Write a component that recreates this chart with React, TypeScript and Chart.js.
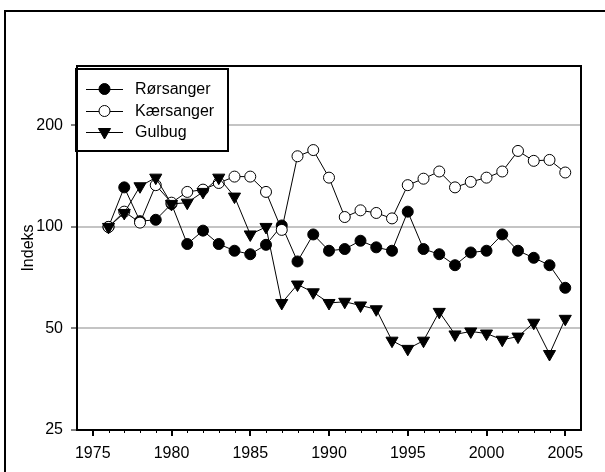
import React, { useEffect, useRef } from "react";
import { Chart, registerables } from "chart.js";

Chart.register(...registerables);

const years = [1976, 1977, 1978, 1979, 1980, 1981, 1982, 1983, 1984, 1985, 1986, 1987, 1988, 1989, 1990, 1991, 1992, 1993, 1994, 1995, 1996, 1997, 1998, 1999, 2000, 2001, 2002, 2003, 2004, 2005];
const rorsanger = [100, 131, 104, 105, 117, 89, 97.5, 89, 85, 83, 88.5, 101, 79, 95, 85, 86, 91, 87, 85, 111, 86, 83, 77, 84, 85, 95, 85, 81, 77, 66];
const kaersanger = [100, 111, 103, 133, 118, 127, 129, 135, 141, 141, 127, 98, 162, 169, 140, 107, 112, 110, 106, 133, 139, 146, 131, 136, 140, 146, 168, 157, 158, 145];
const gulbug = [100, 110, 132, 140, 117, 118, 127, 140, 123, 95, 100, 59.5, 67.5, 64, 59.5, 60, 58.5, 57, 46, 43.5, 46, 56, 48, 49, 48.3, 46.3, 47.3, 52, 42, 53.4];
const seriesNames = ["Rørsanger", "Kærsanger", "Gulbug"];
const yTicks = [25, 50, 100, 200];
const xTickYears = [1975, 1976, 1977, 1978, 1979, 1980, 1981, 1982, 1983, 1984, 1985, 1986, 1987, 1988, 1989, 1990, 1991, 1992, 1993, 1994, 1995, 1996, 1997, 1998, 1999, 2000, 2001, 2002, 2003, 2004, 2005];
const yTitle = "Indeks";

const FONT = "'Liberation Sans', Arial, sans-serif";

const frameAndTicks = {
  id: "frameAndTicks",
  afterDraw(chart: any) {
    const { ctx, chartArea, scales } = chart;
    ctx.save();
    ctx.strokeStyle = "#000";
    xTickYears.forEach((yr) => {
      const x = Math.round(scales.x.getPixelForValue(yr));
      const major = yr % 5 === 0;
      ctx.lineWidth = major ? 2 : 1;
      ctx.beginPath();
      ctx.moveTo(x + (major ? 0 : 0.5), chartArea.bottom);
      ctx.lineTo(x + (major ? 0 : 0.5), chartArea.bottom + (major ? 6 : 3));
      ctx.stroke();
    });
    ctx.lineWidth = 2;
    ctx.strokeRect(chartArea.left, chartArea.top, chartArea.right - chartArea.left, chartArea.bottom - chartArea.top);
    ctx.restore();
  },
};

const legendPlugin = {
  id: "customLegend",
  afterDatasetsDraw(chart: any) {
    const { ctx } = chart;
    const bx = 76, by = 69, bw = 152, bh = 82;
    ctx.save();
    ctx.fillStyle = "#fff";
    ctx.fillRect(bx, by, bw, bh);
    ctx.strokeStyle = "#000";
    ctx.lineWidth = 2;
    ctx.strokeRect(bx, by, bw, bh);
    const rows = [89, 111, 132];
    chart.data.datasets.forEach((ds: any, i: number) => {
      const y = rows[i];
      ctx.strokeStyle = "#000";
      ctx.lineWidth = 1;
      ctx.beginPath();
      ctx.moveTo(86, y + 0.5);
      ctx.lineTo(123, y + 0.5);
      ctx.stroke();
      const cx = 104.5;
      ctx.fillStyle = ds.pointBackgroundColor;
      ctx.beginPath();
      if (ds.pointStyle === "triangle") {
        const r = ds.pointRadius;
        let rad = Math.PI;
        ctx.moveTo(cx + Math.sin(rad) * r, y - Math.cos(rad) * r);
        rad += (2 * Math.PI) / 3;
        ctx.lineTo(cx + Math.sin(rad) * r, y - Math.cos(rad) * r);
        rad += (2 * Math.PI) / 3;
        ctx.lineTo(cx + Math.sin(rad) * r, y - Math.cos(rad) * r);
        ctx.closePath();
      } else {
        ctx.arc(cx, y, ds.pointRadius, 0, Math.PI * 2);
      }
      ctx.fill();
      ctx.stroke();
      ctx.fillStyle = "#000";
      ctx.font = `16px ${FONT}`;
      ctx.textBaseline = "middle";
      ctx.textAlign = "left";
      ctx.fillText(ds.label, 135, y + 1);
    });
    ctx.restore();
  },
};

export default function App() {
  const ref = useRef<HTMLCanvasElement>(null);
  useEffect(() => {
    if (!ref.current) return;
    const mk = (vals: number[]) => years.map((yr, i) => ({ x: yr, y: vals[i] }));
    const chart = new Chart(ref.current, {
      type: "line",
      data: {
        datasets: [
          {
            label: seriesNames[0],
            data: mk(rorsanger),
            borderColor: "#000",
            borderWidth: 1,
            pointStyle: "circle",
            pointRadius: 5.5,
            pointBackgroundColor: "#000",
            pointBorderColor: "#000",
            pointBorderWidth: 1,
            order: 2,
          },
          {
            label: seriesNames[1],
            data: mk(kaersanger),
            borderColor: "#000",
            borderWidth: 1,
            pointStyle: "circle",
            pointRadius: 5.5,
            pointBackgroundColor: "#fff",
            pointBorderColor: "#000",
            pointBorderWidth: 1,
            order: 1,
          },
          {
            label: seriesNames[2],
            data: mk(gulbug),
            borderColor: "#000",
            borderWidth: 1,
            pointStyle: "triangle",
            pointRotation: 180,
            pointRadius: 7,
            pointBackgroundColor: "#000",
            pointBorderColor: "#000",
            pointBorderWidth: 1,
            order: 0,
          },
        ] as any,
      },
      options: {
        animation: false,
        responsive: false,
        devicePixelRatio: 1,
        events: [],
        layout: { padding: { top: 66, right: 24, left: 0, bottom: 0 } },
        plugins: { legend: { display: false }, tooltip: { enabled: false } },
        font: { family: FONT },
        scales: {
          x: {
            type: "linear",
            min: 1974,
            max: 2006,
            afterBuildTicks: (s: any) => {
              s.ticks = xTickYears.map((v) => ({ value: v }));
            },
            afterFit: (s: any) => {
              s.height = 42;
            },
            grid: { display: false, drawTicks: false },
            border: { display: false },
            ticks: {
              autoSkip: false,
              maxRotation: 0,
              padding: 14,
              color: "#000",
              font: { family: FONT, size: 16 },
              callback: (v: any) => (Number(v) % 5 === 0 ? String(v) : ""),
            },
          },
          y: {
            type: "logarithmic",
            min: 25,
            max: 300,
            afterBuildTicks: (s: any) => {
              s.ticks = yTicks.map((v) => ({ value: v }));
            },
            afterFit: (s: any) => {
              s.width = 77;
            },
            grid: {
              color: (c: any) => (c.tick && c.tick.value === 25 ? "rgba(0,0,0,0)" : "#c4c4c4"),
              lineWidth: 2,
              tickColor: "#000",
              tickLength: 6,
              tickWidth: 1,
            },
            border: { display: true, color: "#000", width: 2 },
            ticks: {
              padding: 8,
              color: "#000",
              font: { family: FONT, size: 16 },
              callback: (v: any) => String(v),
            },
            title: {
              display: true,
              text: yTitle,
              color: "#000",
              font: { family: FONT, size: 16 },
              padding: { top: 19, bottom: 0 },
            },
          },
        },
      } as any,
      plugins: [frameAndTicks, legendPlugin],
    });
    return () => chart.destroy();
  }, []);

  return (
    <div style={{ position: "fixed", left: 0, top: 0, width: 605, height: 472, overflow: "hidden", background: "#fff" }}>
      <div style={{ position: "absolute", left: 4, top: 10, width: 700, height: 600, border: "2px solid #000" }} />
      <canvas ref={ref} width={605} height={472} style={{ position: "absolute", left: 0, top: 0, width: 605, height: 472 }} />
    </div>
  );
}
